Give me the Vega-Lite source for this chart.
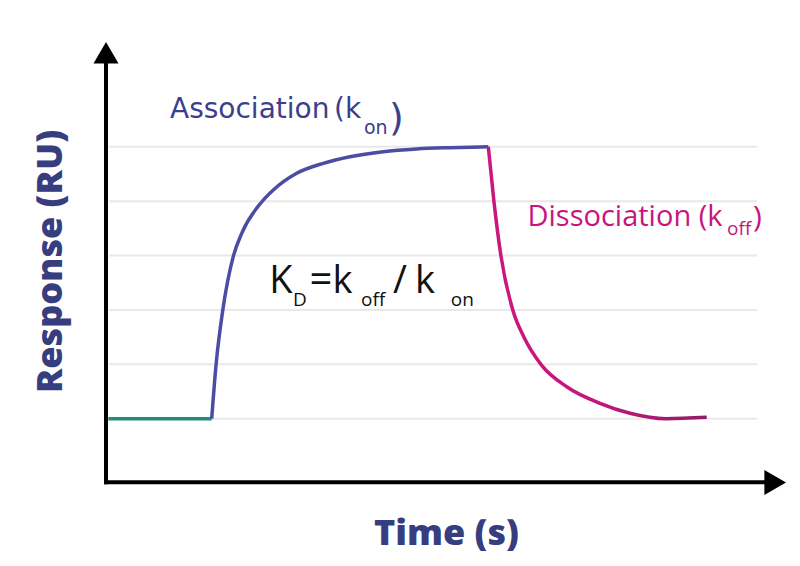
{
  "$schema": "https://vega.github.io/schema/vega-lite/v6.json",
  "width": 680,
  "height": 446,
  "autosize": {"type": "none"},
  "padding": {"left": 106, "top": 38, "right": 14, "bottom": 82},
  "background": "white",
  "config": {
    "view": {"stroke": null},
    "axis": {"domain": false, "ticks": false, "labels": false, "grid": false, "titleFont": "Open Sans", "titleFontSize": 36, "titleFontWeight": 800, "titleColor": "#363e80", "titleBaseline": "alphabetic"},
    "axisX": {"titlePadding": 60},
    "axisY": {"titlePadding": 45}
  },
  "datasets": {
    "sensorgram": [
      {"phase": "baseline", "t": 2.3, "ru": 100},
      {"phase": "baseline", "t": 105.7, "ru": 100},
      {"phase": "association", "t": 105.7, "ru": 100},
      {"phase": "association", "t": 110, "ru": 198.2},
      {"phase": "association", "t": 116.7, "ru": 298.6},
      {"phase": "association", "t": 127.3, "ru": 398.6},
      {"phase": "association", "t": 135.7, "ru": 440.9},
      {"phase": "association", "t": 155.7, "ru": 498.5},
      {"phase": "association", "t": 167.3, "ru": 520.5},
      {"phase": "association", "t": 190.7, "ru": 551.2},
      {"phase": "association", "t": 217.3, "ru": 569.6},
      {"phase": "association", "t": 244, "ru": 581.8},
      {"phase": "association", "t": 277.3, "ru": 591},
      {"phase": "association", "t": 310.7, "ru": 595.9},
      {"phase": "association", "t": 344, "ru": 598.3},
      {"phase": "association", "t": 382.3, "ru": 600},
      {"phase": "dissociation", "t": 382.3, "ru": 600},
      {"phase": "dissociation", "t": 388, "ru": 498.5},
      {"phase": "dissociation", "t": 395, "ru": 398.6},
      {"phase": "dissociation", "t": 407, "ru": 298.6},
      {"phase": "dissociation", "t": 418, "ru": 250},
      {"phase": "dissociation", "t": 435.7, "ru": 198.2},
      {"phase": "dissociation", "t": 460.7, "ru": 158.9},
      {"phase": "dissociation", "t": 494, "ru": 128.4},
      {"phase": "dissociation", "t": 524, "ru": 110},
      {"phase": "dissociation", "t": 560, "ru": 100},
      {"phase": "dissociation", "t": 600.7, "ru": 102.5}
    ],
    "grid": [{"ru": 100}, {"ru": 200}, {"ru": 300}, {"ru": 400}, {"ru": 500}, {"ru": 600}],
    "one": [{}]
  },
  "layer": [
    {
      "data": {"name": "grid"},
      "mark": {"type": "rule", "color": "#e8e8e8", "strokeWidth": 2},
      "encoding": {
        "y": {"field": "ru", "type": "quantitative", "scale": {"domain": [-20, 800], "nice": false, "zero": false}},
        "x": {"datum": 3, "scale": {"domain": [0, 680], "nice": false, "zero": false}},
        "x2": {"datum": 651}
      }
    },
    {
      "data": {"name": "sensorgram"},
      "transform": [{"filter": "datum.phase === 'baseline'"}],
      "mark": {"type": "line", "color": "#1f8f7b", "strokeWidth": 3.5},
      "encoding": {
        "x": {"field": "t", "type": "quantitative"},
        "y": {"field": "ru", "type": "quantitative"}
      }
    },
    {
      "data": {"name": "sensorgram"},
      "transform": [{"filter": "datum.phase === 'association'"}],
      "mark": {"type": "line", "color": "#4a4da2", "strokeWidth": 3.5, "interpolate": "monotone"},
      "encoding": {
        "x": {"field": "t", "type": "quantitative", "scale": {"domain": [0, 680], "nice": false, "zero": false}, "axis": {"title": "Time (s)"}},
        "y": {"field": "ru", "type": "quantitative", "scale": {"domain": [-20, 800], "nice": false, "zero": false}, "axis": {"title": "Response (RU)"}}
      }
    },
    {
      "data": {"name": "sensorgram"},
      "transform": [{"filter": "datum.phase === 'dissociation'"}],
      "mark": {"type": "line", "strokeWidth": 3.5, "interpolate": "monotone",
        "stroke": {"gradient": "linear", "x1": 0, "y1": 0, "x2": 1, "y2": 0,
          "stops": [{"offset": 0, "color": "#cc167f"}, {"offset": 0.45, "color": "#c4177c"}, {"offset": 1, "color": "#901c68"}]}},
      "encoding": {
        "x": {"field": "t", "type": "quantitative"},
        "y": {"field": "ru", "type": "quantitative"}
      }
    },
    {
      "data": {"name": "one"},
      "mark": {"type": "rule", "color": "black", "strokeWidth": 4, "strokeCap": "square"},
      "encoding": {"x": {"datum": 0}, "y": {"datum": -17}, "y2": {"datum": 756}}
    },
    {
      "data": {"name": "one"},
      "mark": {"type": "rule", "color": "black", "strokeWidth": 4, "strokeCap": "square"},
      "encoding": {"y": {"datum": -17}, "x": {"datum": 0}, "x2": {"datum": 660}}
    },
    {
      "data": {"name": "one"},
      "mark": {"type": "point", "shape": "triangle-up", "size": 625, "filled": true, "color": "black", "opacity": 1},
      "encoding": {"x": {"datum": 0}, "y": {"datum": 772.8}}
    },
    {
      "data": {"name": "one"},
      "mark": {"type": "point", "shape": "triangle-right", "size": 625, "filled": true, "color": "black", "opacity": 1},
      "encoding": {"x": {"datum": 669.2}, "y": {"datum": -17.3}}
    },
    {
      "data": {"name": "one"},
      "mark": {"type": "text", "text": "Association", "align": "left", "baseline": "alphabetic", "font": "DejaVu Sans", "fontSize": 28, "color": "#3b3f8e"},
      "encoding": {"x": {"datum": 64}, "y": {"datum": 652.4}}
    },
    {
      "data": {"name": "one"},
      "mark": {"type": "text", "text": "(k", "align": "left", "baseline": "alphabetic", "font": "DejaVu Sans", "fontSize": 28, "color": "#3b3f8e"},
      "encoding": {"x": {"datum": 228}, "y": {"datum": 652.4}}
    },
    {
      "data": {"name": "one"},
      "mark": {"type": "text", "text": "on", "align": "left", "baseline": "alphabetic", "font": "DejaVu Sans", "fontSize": 19, "color": "#3b3f8e"},
      "encoding": {"x": {"datum": 258}, "y": {"datum": 622.9}}
    },
    {
      "data": {"name": "one"},
      "mark": {"type": "text", "text": ")", "align": "left", "baseline": "alphabetic", "font": "DejaVu Sans", "fontSize": 38, "color": "#3b3f8e"},
      "encoding": {"x": {"datum": 283}, "y": {"datum": 630.8}}
    },
    {
      "data": {"name": "one"},
      "mark": {"type": "text", "text": "Dissociation (k", "align": "left", "baseline": "alphabetic", "font": "Open Sans", "fontSize": 29, "color": "#c8157e"},
      "encoding": {"x": {"datum": 421.5}, "y": {"datum": 454.9}}
    },
    {
      "data": {"name": "one"},
      "mark": {"type": "text", "text": "off", "align": "left", "baseline": "alphabetic", "font": "Open Sans", "fontSize": 19, "color": "#c8157e"},
      "encoding": {"x": {"datum": 621}, "y": {"datum": 437.8}}
    },
    {
      "data": {"name": "one"},
      "mark": {"type": "text", "text": ")", "align": "left", "baseline": "alphabetic", "font": "Open Sans", "fontSize": 30, "color": "#c8157e"},
      "encoding": {"x": {"datum": 647}, "y": {"datum": 452.5}}
    },
    {
      "data": {"name": "one"},
      "mark": {"type": "text", "text": "K", "align": "left", "baseline": "alphabetic", "font": "Open Sans", "fontSize": 38, "color": "#111111"},
      "encoding": {"x": {"datum": 163.3}, "y": {"datum": 330.6}}
    },
    {
      "data": {"name": "one"},
      "mark": {"type": "text", "text": "D", "align": "left", "baseline": "alphabetic", "font": "Open Sans", "fontSize": 19, "color": "#111111"},
      "encoding": {"x": {"datum": 187}, "y": {"datum": 307.3}}
    },
    {
      "data": {"name": "one"},
      "mark": {"type": "text", "text": "=", "align": "left", "baseline": "alphabetic", "font": "Open Sans", "fontSize": 40, "color": "#111111"},
      "encoding": {"x": {"datum": 203.5}, "y": {"datum": 330.6}}
    },
    {
      "data": {"name": "one"},
      "mark": {"type": "text", "text": "k", "align": "left", "baseline": "alphabetic", "font": "Open Sans", "fontSize": 38, "color": "#111111"},
      "encoding": {"x": {"datum": 226.5}, "y": {"datum": 330.6}}
    },
    {
      "data": {"name": "one"},
      "mark": {"type": "text", "text": "off", "align": "left", "baseline": "alphabetic", "font": "Open Sans", "fontSize": 19, "color": "#111111"},
      "encoding": {"x": {"datum": 255}, "y": {"datum": 307.3}}
    },
    {
      "data": {"name": "one"},
      "mark": {"type": "text", "text": "/", "align": "left", "baseline": "alphabetic", "font": "Open Sans", "fontSize": 38, "color": "#111111"},
      "encoding": {"x": {"datum": 287}, "y": {"datum": 330.6}}
    },
    {
      "data": {"name": "one"},
      "mark": {"type": "text", "text": "k", "align": "left", "baseline": "alphabetic", "font": "Open Sans", "fontSize": 38, "color": "#111111"},
      "encoding": {"x": {"datum": 309}, "y": {"datum": 330.6}}
    },
    {
      "data": {"name": "one"},
      "mark": {"type": "text", "text": "on", "align": "left", "baseline": "alphabetic", "font": "Open Sans", "fontSize": 19, "color": "#111111"},
      "encoding": {"x": {"datum": 344.7}, "y": {"datum": 307.3}}
    }
  ]
}
